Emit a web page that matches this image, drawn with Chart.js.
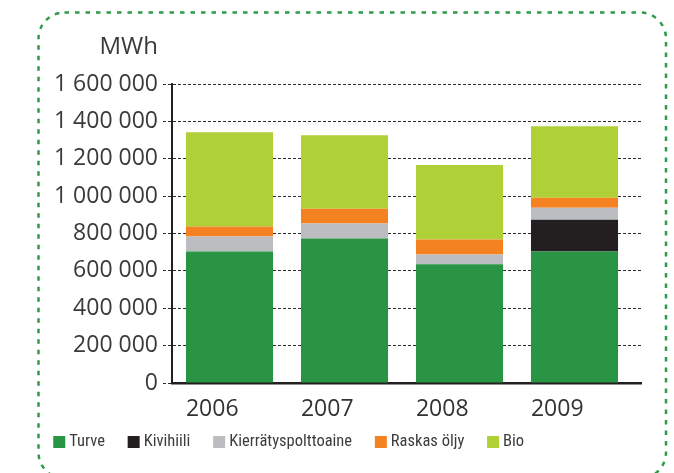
<!DOCTYPE html>
<html>
<head>
<meta charset="utf-8">
<script src="https://cdn.jsdelivr.net/npm/chart.js@4.4.1/dist/chart.umd.min.js"></script>
<style>
html,body{margin:0;padding:0;background:#fff;overflow:hidden}
#wrap{position:relative;width:674px;height:473px}
</style>
</head>
<body>
<div id="wrap"><canvas id="c" width="674" height="473"></canvas></div>
<script>
// ---- data ----
const categories = ['2006', '2007', '2008', '2009'];
const seriesNames = ['Turve', 'Kivihiili', 'Kierrätyspolttoaine', 'Raskas öljy', 'Bio'];
const turve      = [704000, 773000, 635000, 704000];
const kivihiili  = [0, 0, 0, 170000];
const kierratys  = [80000, 80000, 53000, 64000];
const raskasOljy = [53000, 79000, 80000, 53000];
const bio        = [505000, 394000, 398000, 383000];
const yTickValues = [0, 200000, 400000, 600000, 800000, 1000000, 1200000, 1400000, 1600000];
const yTickLabels = ['0', '200 000', '400 000', '600 000', '800 000', '1 000 000', '1 200 000', '1 400 000', '1 600 000'];
const unitLabel = 'MWh';

const seriesValues = [turve, kivihiili, kierratys, raskasOljy, bio];
const seriesColors = ['#2a9445', '#231f20', '#bcbdc0', '#f58220', '#afd036'];
const BAR_PCT = 0.757;

Chart.defaults.font.family = '"Open Sans", "Liberation Sans", sans-serif';
Chart.defaults.color = '#3a3a3a';

const framePlugin = {
  id: 'frame',
  beforeDraw(chart) {
    const ctx = chart.ctx;
    const x = 38.5, y = 12.5, w = 627.5, h = 466, r = 26;
    ctx.save();
    ctx.strokeStyle = '#2e9a4a';
    ctx.lineWidth = 2.5;
    ctx.setLineDash([4.5, 6]);
    ctx.beginPath();
    ctx.moveTo(x + r, y);
    ctx.lineTo(x + w - r, y);
    ctx.arcTo(x + w, y, x + w, y + r, r);
    ctx.lineTo(x + w, y + h - r);
    ctx.arcTo(x + w, y + h, x + w - r, y + h, r);
    ctx.lineTo(x + r, y + h);
    ctx.arcTo(x, y + h, x, y + h - r, r);
    ctx.lineTo(x, y + r);
    ctx.arcTo(x, y, x + r, y, r);
    ctx.closePath();
    ctx.stroke();
    ctx.restore();
  },
  afterDraw(chart) {
    const ctx = chart.ctx;
    const ys = chart.scales.y;
    ctx.save();
    ctx.font = '24px "Open Sans", "Liberation Sans", sans-serif';
    ctx.fillStyle = '#3a3a3a';
    ctx.textAlign = 'right';
    ctx.textBaseline = 'alphabetic';
    ctx.fillText(unitLabel, ys.right - 14, 54);
    ctx.restore();
  }
};

const datasets = seriesNames.map((name, s) => ({
  label: name,
  data: categories.map((c, i) => ({ x: +c, y: seriesValues[s][i] })),
  backgroundColor: seriesColors[s],
  borderWidth: 0,
  categoryPercentage: 1,
  barPercentage: BAR_PCT
}));

new Chart(document.getElementById('c'), {
  type: 'bar',
  data: { datasets },
  plugins: [framePlugin],
  options: {
    responsive: false,
    animation: false,
    events: [],
    layout: { padding: { left: 30.5, right: 33, top: 84, bottom: 12.75 } },
    plugins: {
      tooltip: { enabled: false },
      title: { display: false },
      legend: {
        position: 'bottom',
        align: 'start',
        labels: {
          usePointStyle: true,
          pointStyle: 'rect',
          boxWidth: 3.5,
          boxHeight: 12,
          padding: 27,
          color: '#3c3c3c',
          font: { size: 16.5, weight: '400', family: '"Roboto Condensed", "Liberation Sans", sans-serif' }
        }
      }
    },
    scales: {
      x: {
        type: 'linear',
        offset: false,
        stacked: true,
        min: 2005.5,
        max: 2005.5 + 469 / 115,
        // labels start at the left edge of each bar, as in the reference
        afterBuildTicks(scale) { scale.ticks = categories.map(c => ({ value: +c - BAR_PCT / 2 })); },
        afterFit(scale) { scale.height = 23.75; },
        grid: { display: false, offset: false },
        border: { display: true, color: '#231f20', width: 2.5 },
        ticks: {
          mirror: true,
          padding: -39.8,
          align: 'start',
          color: '#333',
          font: { size: 23 },
          maxRotation: 0,
          callback(v, i) { return categories[i]; }
        }
      },
      y: {
        stacked: true,
        min: 0,
        max: 1600000,
        afterBuildTicks(scale) { scale.ticks = yTickValues.map(v => ({ value: v })); },
        afterFit(scale) { scale.width = 141.5; },
        grid: {
          color: '#2b2b2b',
          lineWidth: 1,
          drawTicks: true,
          tickLength: 9,
          tickColor: '#2b2b2b',
          tickWidth: 1,
          tickBorderDash: [3, 2]
        },
        border: { display: true, color: '#231f20', width: 2, dash: [3, 2] },
        ticks: {
          padding: 5,
          color: '#3a3a3a',
          font: { size: 23 },
          callback(v) { const i = yTickValues.indexOf(v); return i >= 0 ? yTickLabels[i] : ''; }
        }
      }
    }
  }
});
</script>
</body>
</html>
